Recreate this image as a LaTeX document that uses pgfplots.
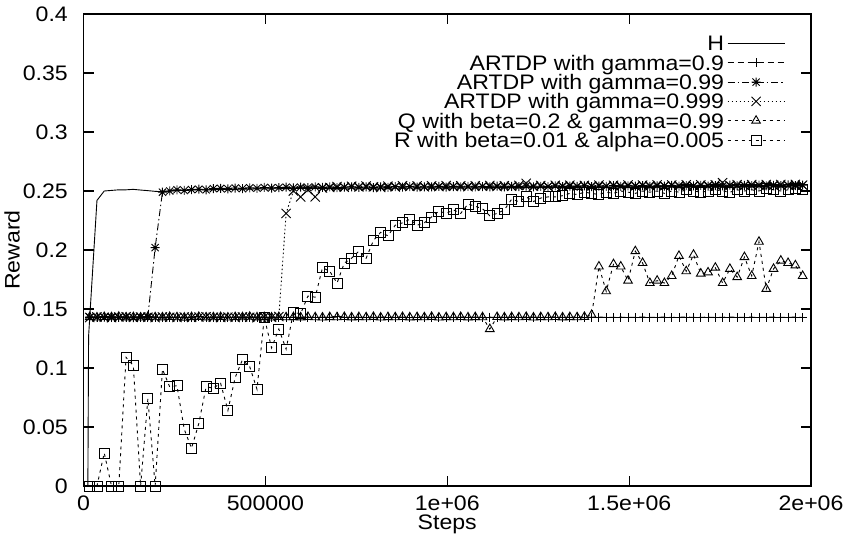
\documentclass[border=0pt]{standalone}
\usepackage{pgfplots}
\pgfplotsset{compat=1.18}
\usepackage{pgfplotstable}
\usepackage{fontspec}
\setmainfont{Liberation Sans}[FakeStretch=1.1]

\pgfdeclareplotmark{ast8}{%
  \pgfpathmoveto{\pgfqpoint{-\pgfplotmarksize}{0pt}}%
  \pgfpathlineto{\pgfqpoint{\pgfplotmarksize}{0pt}}%
  \pgfpathmoveto{\pgfqpoint{0pt}{-\pgfplotmarksize}}%
  \pgfpathlineto{\pgfqpoint{0pt}{\pgfplotmarksize}}%
  \pgfpathmoveto{\pgfqpoint{-.8\pgfplotmarksize}{-.8\pgfplotmarksize}}%
  \pgfpathlineto{\pgfqpoint{.8\pgfplotmarksize}{.8\pgfplotmarksize}}%
  \pgfpathmoveto{\pgfqpoint{-.8\pgfplotmarksize}{.8\pgfplotmarksize}}%
  \pgfpathlineto{\pgfqpoint{.8\pgfplotmarksize}{-.8\pgfplotmarksize}}%
  \pgfusepathqstroke
}

\pgfplotstableread{
t A B C Q R
17000 0.1430 0.1432 0.1428 0.1431 0.000
37000 0.1427 0.1430 0.1433 0.1428 0.000
57000 0.1433 0.1428 0.1430 0.1432 0.028
77000 0.1430 0.1434 0.1427 0.1430 0.000
97000 0.1428 0.1429 0.1431 0.1434 0.000
117000 0.1432 0.1431 0.1435 0.1429 0.109
137000 0.1430 0.1427 0.1429 0.1431 0.102
157000 0.1429 0.1433 0.1432 0.1428 0.000
177000 0.1431 0.1436 0.1430 0.1433 0.074
197000 0.1428 0.2020 0.1427 0.1430 0.000
217000 0.1432 0.2490 0.1433 0.1429 0.099
237000 0.1430 0.2500 0.1430 0.1432 0.084
257000 0.1427 0.2510 0.1428 0.1430 0.085
277000 0.1431 0.2505 0.1432 0.1427 0.048
297000 0.1430 0.2512 0.1429 0.1431 0.032
317000 0.1433 0.2515 0.1431 0.1433 0.053
337000 0.1429 0.2510 0.1434 0.1429 0.084
357000 0.1430 0.2520 0.1430 0.1430 0.083
377000 0.1432 0.2522 0.1428 0.1432 0.087
397000 0.1428 0.2518 0.1431 0.1428 0.064
417000 0.1430 0.2525 0.1429 0.1431 0.092
437000 0.1431 0.2520 0.1433 0.1430 0.107
457000 0.1429 0.2527 0.1430 0.1434 0.101
477000 0.1432 0.2523 0.1427 0.1429 0.082
497000 0.1430 0.2530 0.1432 0.1431 0.143
517000 0.1428 0.2525 0.1430 0.1428 0.117
537000 0.1431 0.2528 0.1436 0.1432 0.133
557000 0.1430 0.2532 0.2310 0.1430 0.116
577000 0.1429 0.2527 0.2500 0.1431 0.147
597000 0.1432 0.2533 0.2450 0.1429 0.146
617000 0.1430 0.2529 0.2510 0.1433 0.161
637000 0.1428 0.2535 0.2450 0.1430 0.160
657000 0.1431 0.2530 0.2525 0.1428 0.185
677000 0.1430 0.2534 0.2530 0.1431 0.182
697000 0.1433 0.2528 0.2538 0.1430 0.172
717000 0.1429 0.2532 0.2532 0.1432 0.189
737000 0.1430 0.2536 0.2540 0.1429 0.193
757000 0.1431 0.2530 0.2535 0.1431 0.199
777000 0.1428 0.2534 0.2542 0.1430 0.193
797000 0.1430 0.2529 0.2536 0.1433 0.208
817000 0.1432 0.2535 0.2530 0.1428 0.215
837000 0.1429 0.2531 0.2541 0.1431 0.212
857000 0.1430 0.2537 0.2535 0.1430 0.221
877000 0.1431 0.2533 0.2545 0.1432 0.223
897000 0.1428 0.2538 0.2538 0.1429 0.226
917000 0.1430 0.2532 0.2543 0.1431 0.221
937000 0.1432 0.2536 0.2536 0.1430 0.223
957000 0.1429 0.2534 0.2544 0.1433 0.228
977000 0.1430 0.2539 0.2537 0.1428 0.233
997000 0.1431 0.2533 0.2546 0.1431 0.231
1017000 0.1428 0.2537 0.2539 0.1430 0.234
1037000 0.1430 0.2535 0.2544 0.1432 0.231
1057000 0.1432 0.2540 0.2537 0.1429 0.239
1077000 0.1429 0.2534 0.2545 0.1431 0.237
1097000 0.1430 0.2538 0.2540 0.1430 0.235
1117000 0.1431 0.2536 0.2547 0.1330 0.229
1137000 0.1428 0.2541 0.2538 0.1432 0.231
1157000 0.1430 0.2535 0.2545 0.1429 0.234
1177000 0.1432 0.2539 0.2540 0.1431 0.243
1197000 0.1429 0.2537 0.2548 0.1430 0.241
1217000 0.1430 0.2542 0.2565 0.1433 0.245
1237000 0.1431 0.2536 0.2541 0.1428 0.241
1257000 0.1428 0.2540 0.2547 0.1431 0.244
1277000 0.1430 0.2538 0.2539 0.1430 0.245
1297000 0.1432 0.2543 0.2548 0.1432 0.245
1317000 0.1429 0.2537 0.2542 0.1429 0.246
1337000 0.1430 0.2541 0.2549 0.1431 0.248
1357000 0.1431 0.2539 0.2541 0.1430 0.247
1377000 0.1428 0.2544 0.2548 0.1433 0.249
1397000 0.1430 0.2538 0.2543 0.1450 0.248
1417000 0.1432 0.2542 0.2550 0.186 0.247
1437000 0.1429 0.2540 0.2542 0.165 0.249
1457000 0.1430 0.2545 0.2549 0.188 0.248
1477000 0.1431 0.2539 0.2544 0.186 0.250
1497000 0.1428 0.2543 0.2551 0.174 0.249
1517000 0.1430 0.2541 0.2543 0.199 0.248
1537000 0.1432 0.2546 0.2550 0.189 0.250
1557000 0.1429 0.2540 0.2545 0.172 0.249
1577000 0.1430 0.2544 0.2552 0.174 0.250
1597000 0.1431 0.2542 0.2544 0.172 0.248
1617000 0.1428 0.2547 0.2551 0.178 0.250
1637000 0.1430 0.2541 0.2546 0.195 0.249
1657000 0.1432 0.2545 0.2553 0.182 0.251
1677000 0.1429 0.2543 0.2545 0.196 0.250
1697000 0.1430 0.2548 0.2552 0.180 0.249
1717000 0.1431 0.2542 0.2547 0.181 0.250
1737000 0.1428 0.2546 0.2553 0.185 0.251
1757000 0.1430 0.2544 0.2570 0.172 0.250
1777000 0.1432 0.2549 0.2546 0.184 0.249
1797000 0.1429 0.2543 0.2554 0.177 0.251
1817000 0.1430 0.2547 0.2548 0.194 0.250
1837000 0.1431 0.2545 0.2554 0.178 0.251
1857000 0.1428 0.2550 0.2547 0.207 0.250
1877000 0.1430 0.2544 0.2555 0.167 0.252
1897000 0.1432 0.2548 0.2549 0.184 0.251
1917000 0.1429 0.2546 0.2555 0.191 0.250
1937000 0.1430 0.2551 0.2548 0.189 0.251
1957000 0.1431 0.2545 0.2556 0.187 0.252
1977000 0.1428 0.2549 0.2550 0.178 0.251
}\datatable

\begin{document}
\begin{tikzpicture}[font=\fontsize{21}{25}\selectfont]
\useasboundingbox (0,0) rectangle (843pt,533pt);
\begin{axis}[
  at={(83.5pt,47pt)}, anchor=south west,
  scale only axis, width=727.5pt, height=472pt,
  xmin=0, xmax=2000000, ymin=0, ymax=0.4,
  xtick={0,500000,1000000,1500000,2000000},
  xticklabels={0,500000,1e+06,1.5e+06,2e+06},
  ytick={0,0.05,0.1,0.15,0.2,0.25,0.3,0.35,0.4},
  yticklabels={0,0.05,0.1,0.15,0.2,0.25,0.3,0.35,0.4},
  scaled x ticks=false, scaled y ticks=false,
  tick align=inside, tick pos=both,
  major tick length=10pt,
  every tick/.style={black, line width=1.2pt},
  axis line style={line width=1.6pt},
  xticklabel style={anchor=north, inner sep=0pt, yshift=-10pt},
  yticklabel style={anchor=east, inner sep=0pt, xshift=-15.5pt},
  xlabel={Steps}, ylabel={Reward},
  xlabel style={at={(axis description cs:0.5,0)}, anchor=north, inner sep=0pt, yshift=-28.5pt},
  ylabel style={at={([xshift=-63.5pt]axis description cs:0,0.5)}, anchor=south, inner sep=0pt},
  legend cell align=right, legend plot pos=right,
  legend style={draw=none, fill=none, at={(0.9643,0.958)}, anchor=north east,
    inner sep=0pt, outer sep=0pt, column sep=3pt,
    nodes={inner sep=0pt, text height=17pt, text depth=2.3pt}},
  legend image code/.code={\draw[mark repeat=2,mark phase=2,#1] plot coordinates {(0pt,0pt) (28.5pt,0pt) (57pt,0pt)};},
]
\addplot[black, line width=0.9pt] coordinates {
(12000,0) (14000,0.127) (37000,0.242) (57000,0.250) (77000,0.2505) (97000,0.251)
(117000,0.251) (137000,0.2514) (157000,0.2508) (177000,0.2503) (197000,0.2497)
(217000,0.2494) (237000,0.2500) (257000,0.2505) (317000,0.2510) (377000,0.2512)
(437000,0.2515) (497000,0.2518) (557000,0.2520) (617000,0.2522) (677000,0.2521)
(737000,0.2524) (797000,0.2525) (857000,0.2523) (917000,0.2526) (977000,0.2527)
(1037000,0.2526) (1097000,0.2528) (1157000,0.2529) (1217000,0.2528) (1277000,0.2530)
(1337000,0.2531) (1397000,0.2530) (1457000,0.2532) (1517000,0.2531) (1577000,0.2533)
(1637000,0.2532) (1697000,0.2534) (1757000,0.2533) (1817000,0.2535) (1877000,0.2534)
(1937000,0.2535) (1977000,0.2535)
};
\addlegendentry{H}
\addplot[black, line width=0.9pt, dash pattern=on 6pt off 4pt, mark=+, mark size=4.5pt, mark options={solid}] table[x=t,y=A]{\datatable};
\addlegendentry{ARTDP with gamma=0.9}
\addplot[black, line width=0.9pt, dash pattern=on 7pt off 3pt on 1.5pt off 3pt, mark=ast8, mark size=4.5pt, mark options={solid}] table[x=t,y=B]{\datatable};
\addlegendentry{ARTDP with gamma=0.99}
\addplot[black, line width=0.9pt, dash pattern=on 1.5pt off 2.5pt, mark=x, mark size=6.5pt, mark options={solid}] table[x=t,y=C]{\datatable};
\addlegendentry{ARTDP with gamma=0.999}
\addplot[black, line width=0.9pt, dash pattern=on 3pt off 4pt, mark=triangle, mark size=5pt, mark options={solid}] table[x=t,y=Q]{\datatable};
\addlegendentry{Q with beta=0.2 \& gamma=0.99}
\addplot[black, line width=0.9pt, dash pattern=on 3pt off 4pt, mark=square, mark size=5pt, mark options={solid}] table[x=t,y=R]{\datatable};
\addlegendentry{R with beta=0.01 \& alpha=0.005}
\end{axis}
\end{tikzpicture}
\end{document}
